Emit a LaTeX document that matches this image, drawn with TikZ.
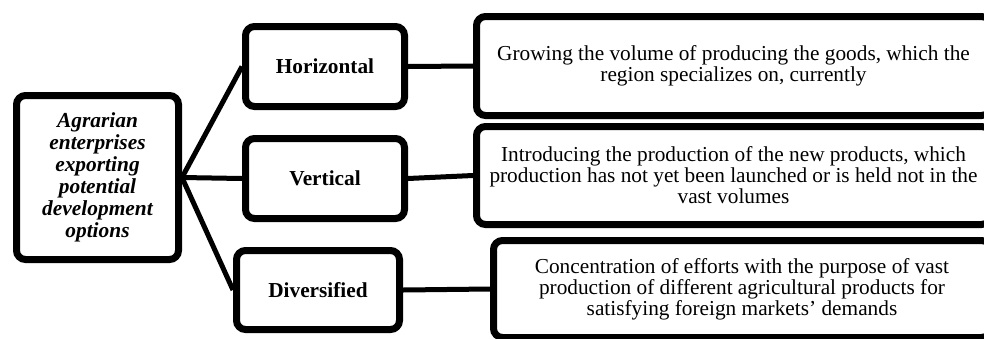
\documentclass[tikz,border=0pt]{standalone}
\usepackage{fontspec}
\setmainfont{Liberation Serif}
\usetikzlibrary{shadows}
\begin{document}
\begin{tikzpicture}[x=1pt,y=-1pt,
  box/.style={draw=black, line width=7pt, rounded corners=9pt, fill=white,
    inner sep=0pt, align=center,
    drop shadow={opacity=0.25, shadow xshift=1.5pt, shadow yshift=-3pt}},
  link/.style={line width=5pt},
  bigtxt/.style={font=\fontsize{21.4}{22}\selectfont\bfseries\itshape},
  midtxt/.style={font=\fontsize{21.3}{22}\selectfont\bfseries},
  rtxt/.style={font=\fontsize{21.3}{21}\selectfont}]
\useasboundingbox (0,0) rectangle (984,338);
\clip (0,0) rectangle (984,338);
\fill[white] (0,0) rectangle (984,338);
% left box
\node[box, bigtxt, minimum width=162pt, minimum height=164pt] (root) at (97.5,177.5)
  {Agrarian\\enterprises\\exporting\\potential\\development\\options};
% middle boxes
\node[box, midtxt, minimum width=159pt, minimum height=80pt] (hor) at (325,66.5) {Horizontal};
\node[box, midtxt, minimum width=159pt, minimum height=80pt] (ver) at (325,178.5) {Vertical};
\node[box, midtxt, minimum width=163pt, minimum height=79pt] (div) at (318,290) {Diversified};
% right boxes
\node[box, rtxt, minimum width=514pt, minimum height=99pt] (dh) at (733.5,66)
  {Growing the volume of producing the goods, which the\\region specializes on, currently};
\node[box, rtxt, minimum width=514pt, minimum height=98pt] (dv) at (733.5,175.5)
  {Introducing the production of the new products, which\\production has not yet been launched or is held not in the\\vast volumes};
\node[box, rtxt, minimum width=497pt, minimum height=97pt] (dd) at (742,289)
  {Concentration of efforts with the purpose of vast\\production of different agricultural products for\\satisfying foreign markets’ demands};
% connectors
\draw[link] (root.east) -- (hor.west);
\draw[link] (root.east) -- (ver.west);
\draw[link] (root.east) -- (div.west);
\draw[link] (hor.east) -- (dh.west);
\draw[link] (ver.east) -- (dv.west);
\draw[link] (div.east) -- (dd.west);
\end{tikzpicture}
\end{document}
